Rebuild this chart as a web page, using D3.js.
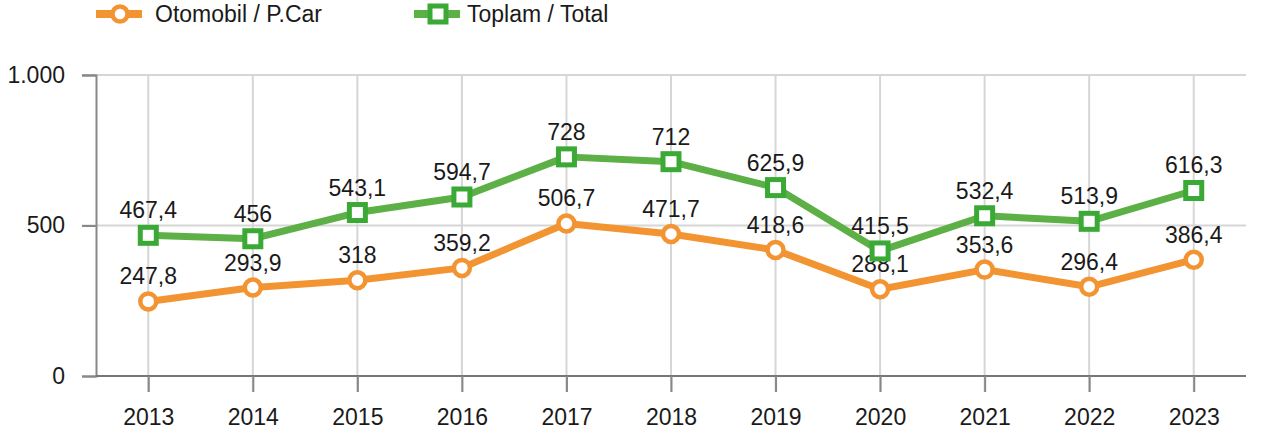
<!DOCTYPE html>
<html>
<head>
<meta charset="utf-8">
<script src="https://cdn.jsdelivr.net/npm/d3@7"></script>
<style>
  body { margin: 0; background: #fff; }
  text { font-family: "Liberation Sans", Arial, sans-serif; fill: #1a1a1a; }
</style>
</head>
<body>
<div id="chart"></div>
<script>
const years = ["2013", "2014", "2015", "2016", "2017", "2018", "2019", "2020", "2021", "2022", "2023"];
const cars = [247.8, 293.9, 318, 359.2, 506.7, 471.7, 418.6, 288.1, 353.6, 296.4, 386.4];
const total = [467.4, 456, 543.1, 594.7, 728, 712, 625.9, 415.5, 532.4, 513.9, 616.3];
const yTicks = [0, 500, 1000];

const width = 1262;
const height = 436;
const fontSize = "23px";

const svg = d3.select("#chart")
  .append("svg")
    .attr("width", width)
    .attr("height", height);

const x = d3.scalePoint().domain(years).range([96, 1246]).padding(0.5);
const y = d3.scaleLinear().domain([0, 1000]).range([376, 75]);

const fmt = v => String(v).replace(".", ",");
const fmtTick = v => v === 1000 ? "1.000" : String(v);

/// grid
svg.append("g")
  .selectAll("line")
  .data(years)
  .join("line")
    .attr("x1", d => x(d)).attr("x2", d => x(d))
    .attr("y1", 75).attr("y2", 392)
    .attr("stroke", "#d6d6d6").attr("stroke-width", 2);

svg.append("g")
  .selectAll("line")
  .data(yTicks.filter(d => d > 0))
  .join("line")
    .attr("x1", 82).attr("x2", 1246)
    .attr("y1", d => y(d)).attr("y2", d => y(d))
    .attr("stroke", "#d6d6d6").attr("stroke-width", 2);

/// axes
const yAxis = svg.append("g")
  .attr("transform", "translate(96,0)")
  .call(d3.axisLeft(y).tickValues(yTicks).tickFormat(fmtTick).tickSize(14).tickPadding(17));
yAxis.select(".domain").attr("stroke", "#888").attr("stroke-width", 2);
yAxis.selectAll(".tick line").attr("stroke", "#888").attr("stroke-width", 2);
yAxis.selectAll("text").style("font-size", fontSize).attr("fill", "#1a1a1a");

const xAxis = svg.append("g")
  .attr("transform", "translate(0,376)")
  .call(d3.axisBottom(x).tickSize(16).tickPadding(17));
xAxis.select(".domain").attr("d", "M96,0H1246").attr("stroke", "#777").attr("stroke-width", 2);
xAxis.selectAll(".tick line").attr("stroke", "#888").attr("stroke-width", 2);
xAxis.selectAll("text").style("font-size", fontSize).attr("fill", "#1a1a1a");

/// series
const series = [
  { name: "Otomobil / P.Car", values: cars, color: "#f39433", marker: "circle" },
  { name: "Toplam / Total", values: total, color: "#5cb045", marker: "square", stroke: "#3aa935" }
];

const line = d3.line().x((d, i) => x(years[i])).y(d => y(d));

series.forEach(s => {
  const g = svg.append("g");
  g.append("path")
    .datum(s.values)
    .attr("d", line)
    .attr("fill", "none")
    .attr("stroke", s.color)
    .attr("stroke-width", 7)
    .attr("stroke-linejoin", "round");

  if (s.marker === "circle") {
    g.selectAll("circle")
      .data(s.values)
      .join("circle")
        .attr("cx", (d, i) => x(years[i]))
        .attr("cy", d => y(d))
        .attr("r", 8)
        .attr("fill", "#fff")
        .attr("stroke", s.color)
        .attr("stroke-width", 4.5);
  } else {
    g.selectAll("rect")
      .data(s.values)
      .join("rect")
        .attr("x", (d, i) => x(years[i]) - 8)
        .attr("y", d => y(d) - 8)
        .attr("width", 16)
        .attr("height", 16)
        .attr("fill", "#fff")
        .attr("stroke", s.stroke)
        .attr("stroke-width", 5);
  }

  g.selectAll("text")
    .data(s.values)
    .join("text")
      .attr("x", (d, i) => x(years[i]))
      .attr("y", d => y(d) - 17)
      .attr("text-anchor", "middle")
      .style("font-size", fontSize)
      .text(fmt);
});

/// legend
const legend = svg.append("g");
const legendX = [96, 414];
series.forEach((s, i) => {
  const lg = legend.append("g").attr("transform", `translate(${legendX[i]},14)`);
  lg.append("line")
    .attr("x1", 0).attr("x2", 46)
    .attr("stroke", s.color).attr("stroke-width", 8);
  if (s.marker === "circle") {
    lg.append("circle").attr("cx", 24).attr("r", 7.5)
      .attr("fill", "#fff").attr("stroke", s.color).attr("stroke-width", 4.5);
  } else {
    lg.append("rect").attr("x", 16).attr("y", -8).attr("width", 16).attr("height", 16)
      .attr("fill", "#fff").attr("stroke", s.stroke).attr("stroke-width", 5);
  }
  lg.append("text")
    .attr("x", [59, 53][i]).attr("y", 8)
    .style("font-size", fontSize)
    .text(s.name);
});
</script>
</body>
</html>
